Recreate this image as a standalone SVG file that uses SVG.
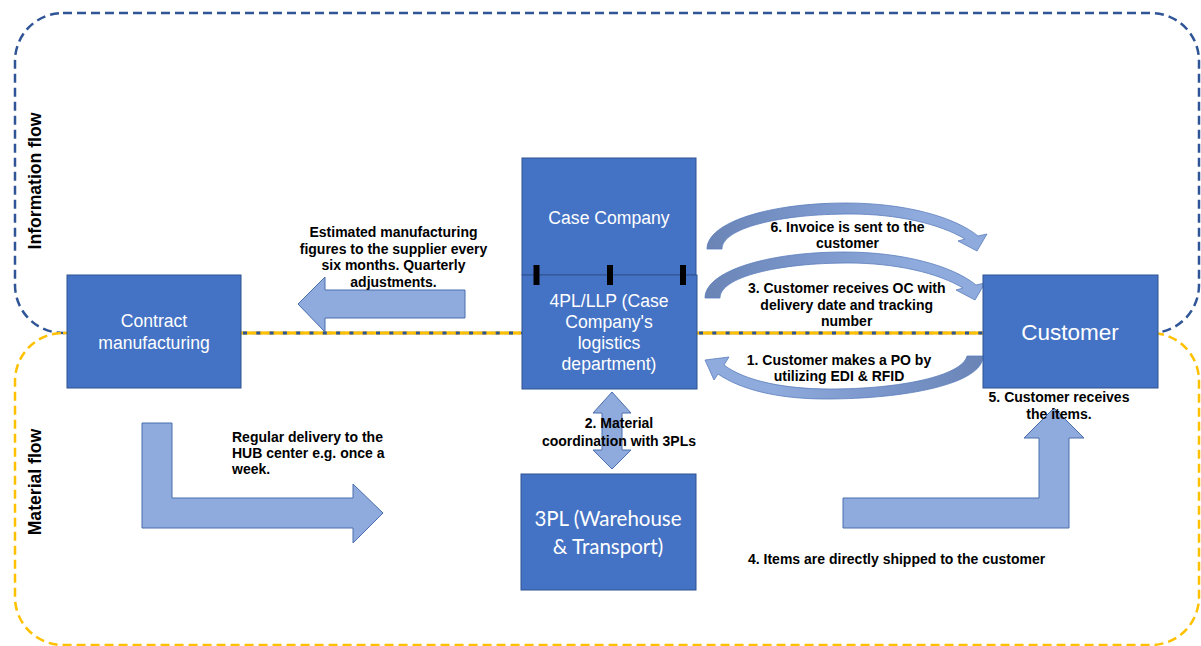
<svg xmlns="http://www.w3.org/2000/svg" width="1201" height="646" viewBox="0 0 1201 646">
  <style>
    .box { fill: #4472C4; stroke: #2F528F; stroke-width: 1; }
    .boxtxt { font-family: "Liberation Sans", Arial, sans-serif; font-size: 17.6px; fill: #FFFFFF; text-anchor: middle; }
    .lbl { font-family: "Liberation Sans", Arial, sans-serif; font-size: 14px; font-weight: bold; fill: #000000; }
    .mid { text-anchor: middle; }
    .side { font-family: "Liberation Sans", Arial, sans-serif; font-size: 17.6px; font-weight: bold; fill: #000000; text-anchor: middle; }
    .arrow { fill: #8FAADC; stroke: #4A6EAD; stroke-width: 1; }
    .info { fill: none; stroke: #2F5597; stroke-width: 2.5; stroke-dasharray: 9 5; }
    .mat { fill: none; stroke: #FFC000; stroke-width: 2.5; stroke-dasharray: 9 5; }
    .seam-y { stroke: #FFC000; stroke-width: 3; }
    .seam-b { stroke: #2F5597; stroke-width: 3; stroke-dasharray: 4 9.3; }
    .mark { fill: #000000; }
  </style>
  <defs>
    <linearGradient id="curveR" x1="0" y1="0" x2="1" y2="0">
      <stop offset="0" stop-color="#6A84B6"/>
      <stop offset="0.4" stop-color="#7C98CC"/>
      <stop offset="0.75" stop-color="#8FAADC"/>
    </linearGradient>
    <linearGradient id="curveL" x1="1" y1="0" x2="0" y2="0">
      <stop offset="0" stop-color="#6A84B6"/>
      <stop offset="0.4" stop-color="#7C98CC"/>
      <stop offset="0.75" stop-color="#8FAADC"/>
    </linearGradient>
  </defs>

  <!-- flow regions -->
  <g id="regions">
    <rect class="info" x="15" y="13" width="1184" height="320" rx="48" ry="48"/>
    <rect class="mat" x="15" y="333" width="1184" height="312" rx="48" ry="48"/>
    <text class="side" transform="translate(41,181) rotate(-90)">Information flow</text>
    <text class="side" transform="translate(41,482) rotate(-90)">Material flow</text>
  </g>

  <!-- connectors -->
  <g id="connectors">
    <line class="seam-y" x1="241" y1="333" x2="521" y2="333"/>
    <line class="seam-b" x1="243" y1="333" x2="521" y2="333"/>
    <line class="seam-y" x1="697" y1="333" x2="983" y2="333"/>
    <line class="seam-b" x1="699" y1="333" x2="983" y2="333"/>

    <!-- forecast to the supplier -->
    <path class="arrow" d="M298,304 L325,277 L325,290 L465,290 L465,318 L325,318 L325,332 Z"/>
    <!-- delivery to the hub -->
    <path class="arrow" d="M142,423 L172,423 L172,498 L353,498 L353,484 L383,513 L353,543 L353,528 L142,528 Z"/>
    <!-- shipment to the customer -->
    <path class="arrow" d="M843,498 L1039,498 L1039,438 L1024,438 L1054,408 L1084,438 L1069,438 L1069,528 L843,528 Z"/>
    <!-- 4PL <-> 3PL -->
    <path class="arrow" d="M612,392 L631,413 L622,413 L622,450 L631,450 L612,469 L593,450 L602,450 L602,413 L593,413 Z"/>

    <!-- curved arrows between 4PL and customer -->
    <path id="curve6" fill="url(#curveR)" stroke="#5B7DBC" stroke-width="0.8" d="M707,249 C707,222 770,203 846,203 C905,203 955,217 978,236 L987,234 L977,251 L958,241 L965,239 C940,224 898,214 850,214 C780,214 722,228 722,249 Z"/>
    <path id="curve3" fill="url(#curveR)" stroke="#5B7DBC" stroke-width="0.8" transform="translate(-2,49)" d="M707,249 C707,222 770,203 846,203 C905,203 955,217 978,236 L987,234 L977,251 L958,241 L965,239 C940,224 898,214 850,214 C780,214 722,228 722,249 Z"/>
    <path id="curve1" fill="url(#curveL)" stroke="#5B7DBC" stroke-width="0.8" d="M983,356 C983,384 905,399 826,399 C776,399 740,389 718,374 L714,380 L705,360 L729,357 L724,365 C745,381 785,389 830,389 C900,389 962,376 967,356 Z"/>
  </g>

  <!-- nodes -->
  <g id="contract">
    <rect class="box" x="67" y="275" width="174" height="113"/>
    <text class="boxtxt" x="154" y="327">Contract</text>
    <text class="boxtxt" x="154" y="348.5">manufacturing</text>
  </g>

  <g id="case-company">
    <rect class="box" x="522" y="158" width="174" height="117"/>
    <text class="boxtxt" x="609" y="224">Case Company</text>
  </g>

  <g id="logistics-4pl">
    <rect class="box" x="522" y="275" width="175" height="114"/>
    <text class="boxtxt" x="609" y="306.5">4PL/LLP (Case</text>
    <text class="boxtxt" x="609" y="327.7">Company's</text>
    <text class="boxtxt" x="609" y="348.9">logistics</text>
    <text class="boxtxt" x="609" y="370">department)</text>
    <rect class="mark" x="533.5" y="265" width="6" height="20"/>
    <rect class="mark" x="607" y="265" width="6" height="20"/>
    <rect class="mark" x="680" y="265" width="6" height="20"/>
  </g>

  <g id="warehouse-3pl">
    <rect class="box" x="521" y="474" width="175" height="116"/>
    <text class="boxtxt" x="608" y="526" style="font-family: Lato, 'Open Sans', sans-serif; font-size: 20.5px;">3PL (Warehouse</text>
    <text class="boxtxt" x="608" y="554" style="font-family: Lato, 'Open Sans', sans-serif; font-size: 20.5px;">&amp; Transport)</text>
  </g>

  <g id="customer">
    <rect class="box" x="983" y="275" width="175" height="113"/>
    <text class="boxtxt" x="1070" y="340" style="font-size: 22.5px;">Customer</text>
  </g>

  <!-- labels -->
  <g id="labels">
    <text class="lbl mid" x="393.5" y="237">Estimated manufacturing</text>
    <text class="lbl mid" x="393.5" y="253.5">figures to the supplier every</text>
    <text class="lbl mid" x="393.5" y="270">six months. Quarterly</text>
    <text class="lbl mid" x="393.5" y="286.5">adjustments.</text>

    <text class="lbl" x="232" y="442">Regular delivery to the</text>
    <text class="lbl" x="232" y="458">HUB center e.g. once a</text>
    <text class="lbl" x="232" y="474">week.</text>

    <text class="lbl mid" x="847.5" y="232">6. Invoice is sent to the</text>
    <text class="lbl mid" x="847.5" y="248">customer</text>

    <text class="lbl mid" x="846.7" y="293">3. Customer receives OC with</text>
    <text class="lbl mid" x="846.7" y="309.5">delivery date and tracking</text>
    <text class="lbl mid" x="846.7" y="326">number</text>

    <text class="lbl mid" x="839" y="365">1. Customer makes a PO by</text>
    <text class="lbl mid" x="839" y="381">utilizing EDI &amp; RFID</text>

    <text class="lbl mid" x="619" y="428">2. Material</text>
    <text class="lbl mid" x="619" y="446">coordination with 3PLs</text>

    <text class="lbl mid" x="1059" y="402">5. Customer receives</text>
    <text class="lbl mid" x="1059" y="418.5">the items.</text>

    <text class="lbl" x="748" y="563.5">4. Items are directly shipped to the customer</text>
  </g>
</svg>
